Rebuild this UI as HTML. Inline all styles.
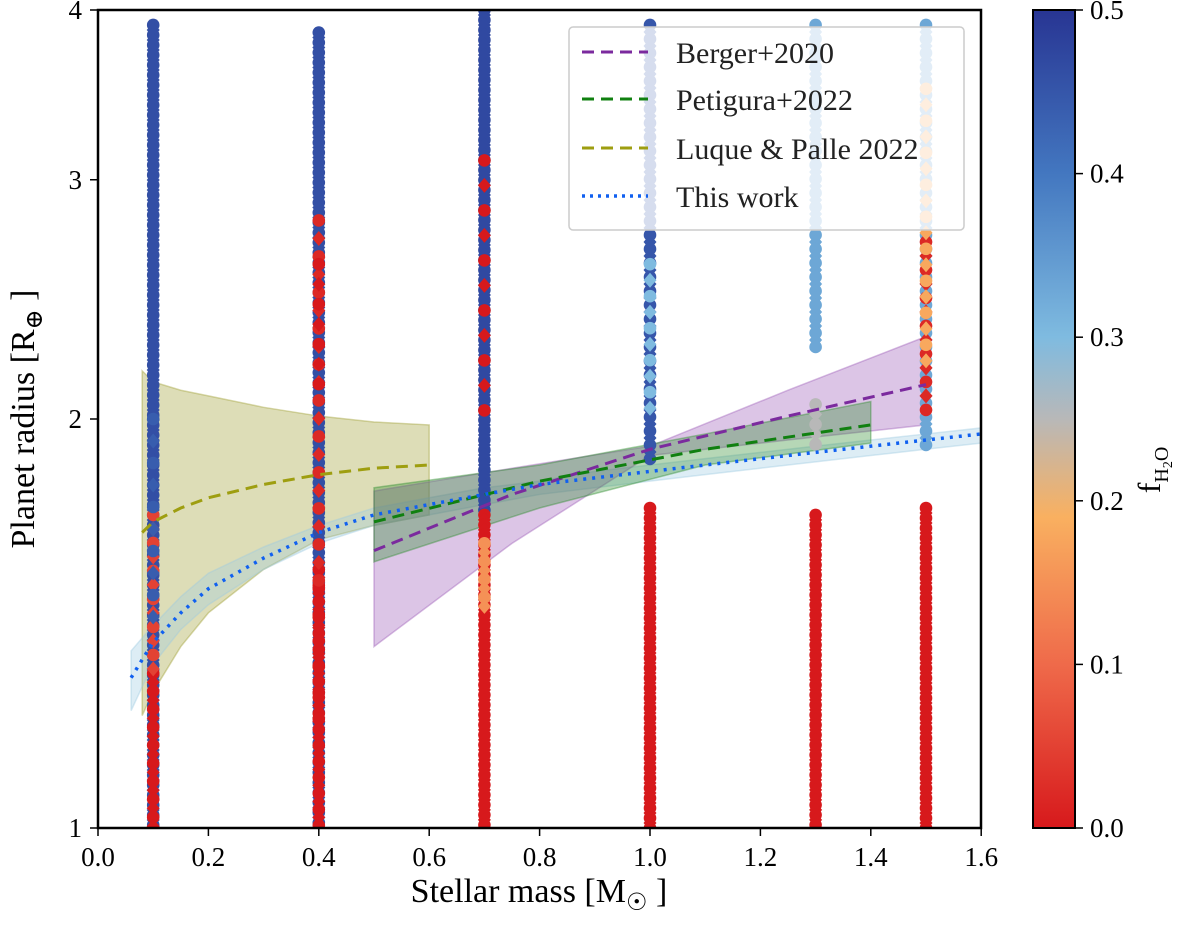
<!DOCTYPE html>
<html><head><meta charset="utf-8"><style>
body{margin:0;background:#fff;}
svg{display:block;font-family:"Liberation Serif","DejaVu Serif",serif;}
</style></head><body>
<svg id="chart" width="1200" height="941" viewBox="0 0 1200 941" xmlns="http://www.w3.org/2000/svg">
<defs>
<linearGradient id="cmap" x1="0" y1="1" x2="0" y2="0">
<stop offset="0" stop-color="#d7191c"/>
<stop offset="0.2" stop-color="#ef6a4a"/>
<stop offset="0.38" stop-color="#f9b060"/>
<stop offset="0.5" stop-color="#b8b8b8"/>
<stop offset="0.6" stop-color="#7fbbe0"/>
<stop offset="0.8" stop-color="#4377c0"/>
<stop offset="1" stop-color="#283593"/>
</linearGradient>
<clipPath id="plotclip"><rect x="98" y="10" width="883" height="818"/></clipPath>
</defs>
<g id="bands" clip-path="url(#plotclip)"></g>
<g id="points" clip-path="url(#plotclip)"></g>
<g id="lines" clip-path="url(#plotclip)"></g>
<rect x="98" y="10" width="883" height="818" fill="none" stroke="#000" stroke-width="2.5"/>
<g id="axes"></g>
<g>
<rect x="569" y="27" width="395" height="203" rx="4" fill="#fff" fill-opacity="0.8" stroke="#ccc" stroke-width="1.5"/>
<line x1="582" y1="52" x2="648" y2="52" stroke="#7b2a9e" stroke-width="3" stroke-dasharray="12,7"/>
<text x="676" y="63" font-size="30" fill="#222">Berger+2020</text>
<line x1="582" y1="99" x2="648" y2="99" stroke="#108010" stroke-width="3" stroke-dasharray="12,7"/>
<text x="676" y="110" font-size="30" fill="#222">Petigura+2022</text>
<line x1="582" y1="148" x2="648" y2="148" stroke="#9e9e10" stroke-width="3" stroke-dasharray="12,7"/>
<text x="676" y="159" font-size="30" fill="#222">Luque &amp; Palle 2022</text>
<line x1="582" y1="196" x2="648" y2="196" stroke="#1060f0" stroke-width="3.5" stroke-dasharray="3,5"/>
<text x="676" y="207" font-size="30" fill="#222">This work</text>
</g>
<g>
<rect x="1033" y="10" width="42" height="818" fill="url(#cmap)" stroke="#000" stroke-width="2"/>
</g>
<text x="539" y="902" font-size="34" text-anchor="middle">Stellar mass [M<tspan font-size="24" dy="8">☉</tspan><tspan dy="-8"> ]</tspan></text>
<text transform="translate(34,419) rotate(-90)" font-size="34" text-anchor="middle">Planet radius [R<tspan font-size="24" dy="8">⊕</tspan><tspan dy="-8"> ]</tspan></text>
<text transform="translate(1160,470) rotate(-90)" font-size="32" text-anchor="middle">f<tspan font-size="20" dy="8">H</tspan><tspan font-size="14" dy="4">2</tspan><tspan font-size="20" dy="-4">O</tspan></text>
</svg>
<script>
const xTicks=[0.0,0.2,0.4,0.6,0.8,1.0,1.2,1.4,1.6];
const yTicks=[1,2,3,4];
const cTicks=[0.0,0.1,0.2,0.3,0.4,0.5];
// segments: [mass, rLow, rHigh, fH2O]
const segMass=[0.1,0.1,0.1,0.1, 0.4,0.4,0.4,0.4,0.4, 0.7,0.7,0.7,0.7, 1.0,1.0,1.0, 1.3,1.3,1.3, 1.5,1.5,1.5,1.5];
const segLo =[1.0,1.0,1.3,1.4, 1.0,1.0,1.2,1.5,2.1, 1.7,1.0,1.45,2.0, 1.85,1.0,2.0, 2.25,1.0,1.9, 1.9,1.0,2.0,2.2];
const segHi =[3.9,1.3,1.7,2.0, 3.85,1.55,1.5,2.8,2.6, 4.0,1.7,1.62,3.1, 3.9,1.72,2.6, 3.9,1.7,2.05, 3.9,1.72,2.7,3.5];
const segF  =[0.46,0.0,0.05,0.44, 0.46,0.0,0.0,0.02,0.0, 0.47,0.0,0.15,0.0, 0.45,0.0,0.3, 0.33,0.0,0.25, 0.33,0.0,0.02,0.18];
const segStep=[5,9,14,22, 5,8,13,18,20, 5,5,9,25, 7,5,16, 7,5,10, 7,5,14,16];
// curves
const curveM=[0.06,0.08,0.1,0.15,0.2,0.3,0.4,0.5,0.6,0.7,0.8,0.9,1.0,1.1,1.2,1.3,1.4,1.5,1.6];
const thisWork=[1.29,1.33,1.37,1.44,1.5,1.58,1.65,1.7,1.73,1.76,1.79,1.81,1.83,1.85,1.87,1.89,1.91,1.93,1.95];
const bergerM=[0.5,0.75,1.0,1.25,1.5], berger=[1.6,1.76,1.9,2.01,2.12], bergerLo=[1.36,1.62,1.88,1.93,1.98], bergerHi=[1.77,1.84,1.91,2.1,2.3];
const petM=[0.5,0.8,1.1,1.4], pet=[1.68,1.8,1.9,1.98], petLo=[1.57,1.72,1.85,1.92], petHi=[1.78,1.85,1.95,2.06];
const luqM=[0.08,0.1,0.15,0.2,0.3,0.4,0.5,0.6], luq=[1.65,1.68,1.72,1.75,1.79,1.82,1.84,1.85], luqLo=[1.21,1.26,1.36,1.44,1.55,1.63,1.67,1.7], luqHi=[2.17,2.13,2.1,2.08,2.04,2.01,1.99,1.98];
const twLo=[1.22,1.27,1.32,1.4,1.46,1.55,1.62,1.67,1.7,1.73,1.76,1.78,1.8,1.82,1.84,1.86,1.88,1.9,1.92];
const twHi=[1.35,1.38,1.41,1.48,1.54,1.61,1.67,1.72,1.75,1.78,1.8,1.83,1.85,1.87,1.89,1.91,1.93,1.95,1.97];

const NS="http://www.w3.org/2000/svg";
const X=m=>98+m*552;
const Y=r=>828-818*Math.log(r)/Math.log(4);
const CY=f=>828-f/0.5*818;
function col(f){
  const st=[[0,[215,25,28]],[0.1,[239,106,74]],[0.19,[249,176,96]],[0.25,[184,184,184]],[0.3,[127,187,224]],[0.4,[67,119,192]],[0.5,[40,53,147]]];
  for(let i=1;i<st.length;i++){if(f<=st[i][0]){const a=st[i-1],b=st[i],t=(f-a[0])/(b[0]-a[0]);return 'rgb('+a[1].map((v,k)=>Math.round(v+(b[1][k]-v)*t)).join(',')+')';}}
  return 'rgb(40,53,147)';
}
function mk(tag,attrs,parent){const e=document.createElementNS(NS,tag);for(const k in attrs)e.setAttribute(k,attrs[k]);parent.appendChild(e);return e;}
const gB=document.getElementById('bands'),gP=document.getElementById('points'),gL=document.getElementById('lines'),gA=document.getElementById('axes');
function band(ms,lo,hi,fill,stroke,name){
  let d='M'+ms.map((m,i)=>X(m)+','+Y(hi[i])).join('L')+'L'+ms.map((m,i)=>X(m)+','+Y(lo[i])).reverse().join('L')+'Z';
  const p=mk('path',{d:d,fill:fill,'fill-opacity':0.35,stroke:stroke,'stroke-opacity':0.4,'stroke-width':1.5},gB);
  
  
}
band(luqM,luqLo,luqHi,'#9e9e30','#9e9e30','luque-band');
band(curveM,twLo,twHi,'#9ecae1','#9ecae1','this-work-band');
band(bergerM,bergerLo,bergerHi,'#9b59b6','#9b59b6','berger-band');
band(petM,petLo,petHi,'#2e8b2e','#2e8b2e','petigura-band');
for(let s=0;s<segMass.length;s++){
  const x=X(segMass[s]),y0=Y(segHi[s]),y1=Y(segLo[s]),c=col(segF[s]);
  let k=0;
  for(let y=y0;y<=y1;y+=segStep[s],k++){
    let e;
    if(k%2==0){e=mk('circle',{cx:x,cy:y,r:6.3,fill:c},gP);}
    else{e=mk('path',{d:`M${x},${y-7.5}L${x+6.5},${y}L${x},${y+7.5}L${x-6.5},${y}Z`,fill:c},gP);}
    
    
  }
}
function line(ms,rs,color,dash,w,name){
  const p=mk('path',{d:'M'+ms.map((m,i)=>X(m)+','+Y(rs[i])).join('L'),fill:'none',stroke:color,'stroke-width':w,'stroke-dasharray':dash},gL);
  
  
}
line(luqM,luq,'#9e9e10','12,7',3,'luque-line');
line(bergerM,berger,'#7b2a9e','12,7',3,'berger-line');
line(petM,pet,'#108010','12,7',3,'petigura-line');
line(curveM,thisWork,'#1060f0','3,6',3.5,'this-work-line');
xTicks.forEach(v=>{
  const x=X(v);
  const t=mk('line',{x1:x,y1:828,x2:x,y2:836,stroke:'#000','stroke-width':1.5},gA);
  
  
  const l=mk('text',{x:x,y:866,'font-size':27,'text-anchor':'middle'},gA);l.textContent=v.toFixed(1);
  
  
});
yTicks.forEach(v=>{
  const y=Y(v);
  const t=mk('line',{x1:90,y1:y,x2:98,y2:y,stroke:'#000','stroke-width':1.5},gA);
  
  
  const l=mk('text',{x:82,y:y+9,'font-size':27,'text-anchor':'end'},gA);l.textContent=v;
  
  
});
cTicks.forEach(v=>{
  const y=CY(v);
  const t=mk('line',{x1:1075,y1:y,x2:1083,y2:y,stroke:'#000','stroke-width':1.5},gA);
  
  
  const l=mk('text',{x:1090,y:y+9,'font-size':27},gA);l.textContent=v.toFixed(1);
  
  
});
</script>
</body></html>
